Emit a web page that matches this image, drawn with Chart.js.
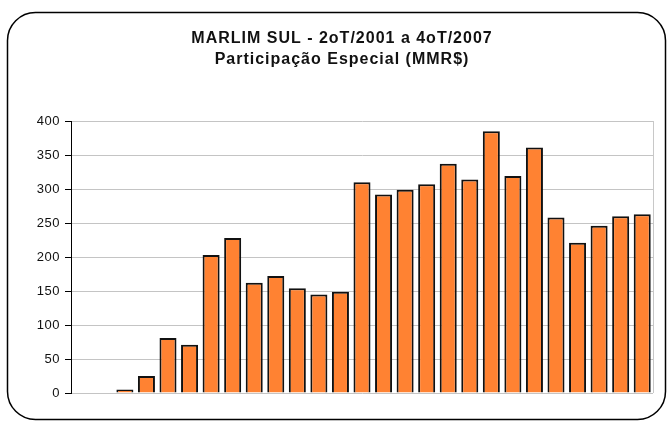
<!DOCTYPE html>
<html>
<head>
<meta charset="utf-8">
<script src="https://cdn.jsdelivr.net/npm/chart.js@4/dist/chart.umd.min.js"></script>
<style>
  html, body { margin: 0; padding: 0; background: #fff; }
  #wrap { width: 668px; height: 425px; }
</style>
</head>
<body>
<div id="wrap"><canvas id="chart" width="668" height="425"></canvas></div>
<script>
"use strict";
// quarters 2oT/2001 .. 4oT/2007
const quarters = [
    "2T01", "3T01", "4T01",
    "1T02", "2T02", "3T02", "4T02",
    "1T03", "2T03", "3T03", "4T03",
    "1T04", "2T04", "3T04", "4T04",
    "1T05", "2T05", "3T05", "4T05",
    "1T06", "2T06", "3T06", "4T06",
    "1T07", "2T07", "3T07", "4T07"
];
// Participação Especial (MMR$)
const values = [
    null, null, 5,
    25, 81, 71, 203,
    228, 162, 172, 154,
    145, 149, 310, 292,
    299, 307, 337, 314,
    385, 319, 361, 258,
    221, 246, 260, 263
];
const titleLines = ["MARLIM SUL - 2oT/2001 a 4oT/2007", "Participação Especial (MMR$)"];

const frame = {
    id: "frame",
    beforeDraw(chart) {
        const ctx = chart.ctx;
        ctx.save();
        ctx.fillStyle = "#fff";
        ctx.fillRect(0, 0, chart.width, chart.height);
        ctx.strokeStyle = "#000";
        ctx.lineWidth = 1.5;
        ctx.beginPath();
        ctx.roundRect(7.5, 12.5, 658, 407, 28);
        ctx.stroke();
        ctx.restore();
        // the original text is a bit stretched
        ctx.letterSpacing = "0.5px";
    },
    afterDatasetsDraw(chart) {
        // light gray right edge of plot area
        const a = chart.chartArea;
        const ctx = chart.ctx;
        ctx.save();
        ctx.strokeStyle = "#c8c8c8";
        ctx.lineWidth = 1;
        ctx.beginPath();
        ctx.moveTo(Math.round(a.right) + 0.5, a.top);
        ctx.lineTo(Math.round(a.right) + 0.5, a.bottom);
        ctx.stroke();
        ctx.restore();
    },
    afterDraw(chart) {
        const ctx = chart.ctx;
        ctx.save();
        ctx.letterSpacing = "1px";
        ctx.fillStyle = "#111";
        ctx.font = "bold 16px 'Liberation Sans', Arial, sans-serif";
        ctx.textAlign = "center";
        ctx.textBaseline = "alphabetic";
        ctx.fillText(titleLines[0], 342, 43);
        ctx.fillText(titleLines[1], 342, 64);
        ctx.restore();
    }
};

new Chart(document.getElementById("chart"), {
    type: "bar",
    data: {
        labels: quarters,
        datasets: [{
            data: values,
            backgroundColor: "#ff8232",
            borderColor: "#111",
            borderWidth: 2,
            categoryPercentage: 1,
            barPercentage: 0.79
        }]
    },
    options: {
        responsive: false,
        animation: false,
        layout: { padding: { left: 0, right: 15, top: 121, bottom: 32 } },
        plugins: {
            legend: { display: false },
            tooltip: { enabled: false },
            title: { display: false }
        },
        scales: {
            x: { display: false },
            y: {
                min: 0,
                max: 400,
                ticks: {
                    stepSize: 50,
                    color: "#111",
                    padding: 5,
                    font: { family: "Liberation Sans, Arial, sans-serif", size: 13 }
                },
                grid: { color: "#c4c4c4", tickColor: "#000", tickLength: 6 },
                border: { color: "#000", width: 1 },
                afterFit(scale) { scale.width = 71; }
            }
        }
    },
    plugins: [frame]
});
</script>
</body>
</html>
